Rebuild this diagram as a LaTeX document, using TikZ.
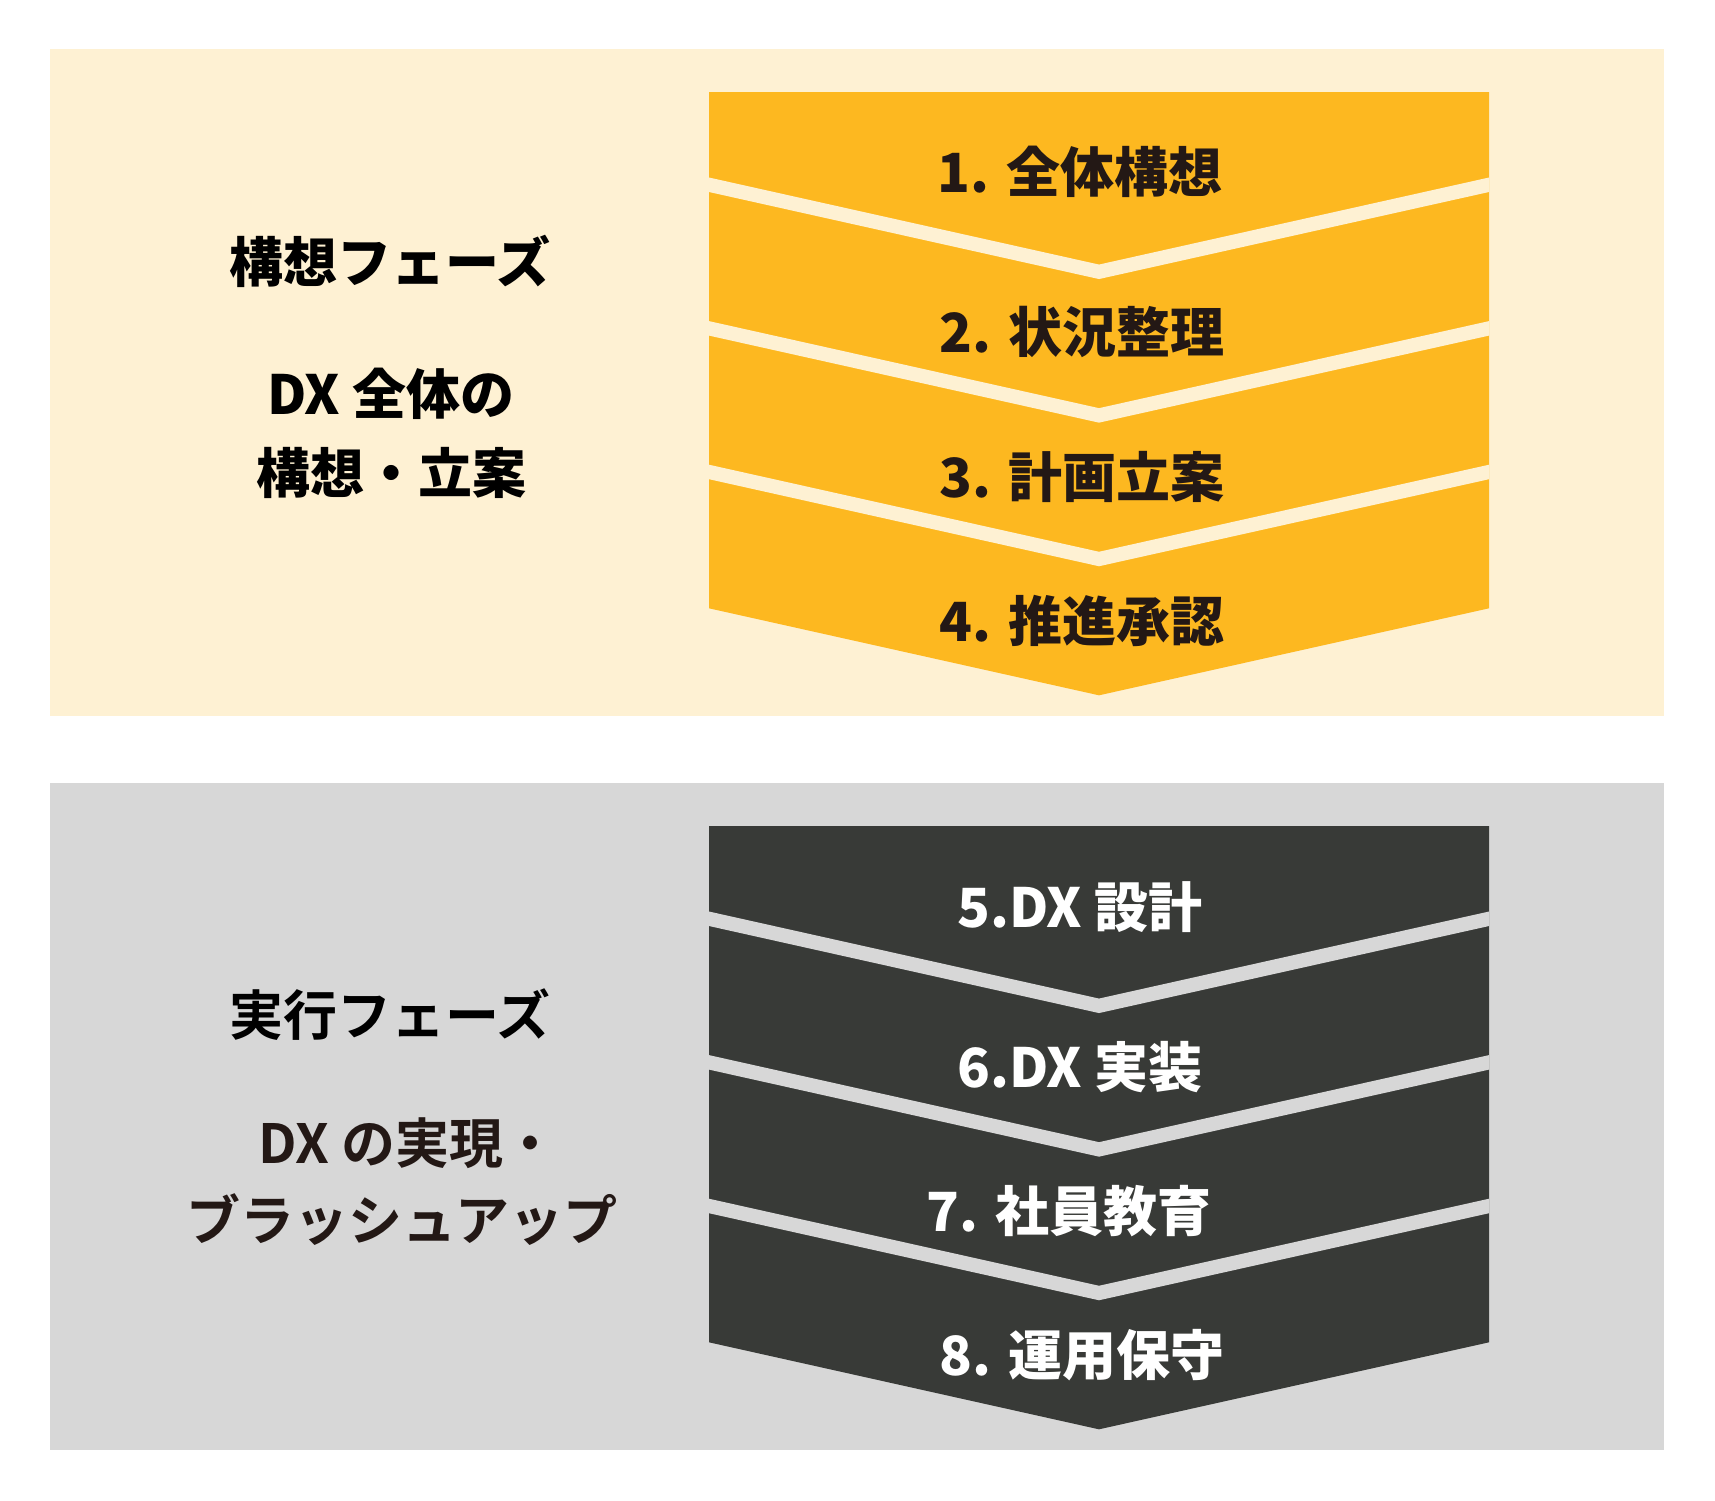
\documentclass[tikz,border=0pt]{standalone}
\usepackage{fontspec}
\setmainfont{Noto Sans CJK JP Bold}
\newfontfamily\heavy{Noto Sans CJK JP Black}
\definecolor{cream}{HTML}{FEF1D3}
\definecolor{gold}{HTML}{FDB820}
\definecolor{lgray}{HTML}{D7D7D7}
\definecolor{dgray}{HTML}{383A37}
\definecolor{ink}{HTML}{231815}
\begin{document}
\begin{tikzpicture}[x=1pt,y=-1pt,
  lbl/.style={font=\fontsize{54}{60}\selectfont, inner sep=0pt, anchor=center},
  hlbl/.style={font=\heavy\fontsize{54}{60}\selectfont, inner sep=0pt, anchor=center},
  darktext/.style={lbl, text=ink},
  blacktext/.style={lbl, text=black},
  heavyblack/.style={hlbl, text=black},
  heavydark/.style={hlbl, text=ink},
  heavylight/.style={hlbl, text=white}]
\useasboundingbox (0,0) rectangle (1715,1500);
\fill[white] (0,0) rectangle (1715,1500);
% panels
\fill[cream] (50,49) rectangle (1664,716);
\fill[lgray] (50,783) rectangle (1664,1450);
% chevron stacks
\foreach \off/\bandcol/\gapcol in {0/gold/cream, 734/dgray/lgray}{
  \begin{scope}[yshift={-\off pt}]
    \clip (709,92) -- (1489,92) -- (1489,608.3) -- (1099,695.3) -- (709,608.3) -- cycle;
    \fill[\bandcol] (700,80) rectangle (1500,700);
    \foreach \k in {0,1,2}{
      \draw[\gapcol, line width=14.15pt, miter limit=20]
        (680,{184.75+143.6*\k-29*87/390}) -- (1099,{271.8+143.6*\k}) -- (1518,{184.75+143.6*\k-29*87/390});
    }
  \end{scope}
}
% left labels
\node[heavyblack] (p1) at (390,261) {構想フェーズ};
\node[heavyblack] (p1a) at (391,394) {DX 全体の};
\node[heavyblack] (p1b) at (391,473) {構想・立案};
\node[blacktext] (p2) at (390,1015) {実行フェーズ};
\node[darktext] (p2a) at (408,1143) {DX の実現・};
\node[darktext] (p2b) at (402,1220) {ブラッシュアップ};
% chevron labels
\node[heavydark] (s1) at (1080,172) {1. 全体構想};
\node[heavydark] (s2) at (1082,331.5) {2. 状況整理};
\node[heavydark] (s3) at (1082,477) {3. 計画立案};
\node[heavydark] (s4) at (1082,621) {4. 推進承認};
\node[heavylight] (s5) at (1080,907) {5.DX 設計};
\node[heavylight] (s6) at (1080,1067) {6.DX 実装};
\node[heavylight] (s7) at (1069,1211) {7. 社員教育};
\node[heavylight] (s8) at (1082,1355) {8. 運用保守};
\end{tikzpicture}
\end{document}
